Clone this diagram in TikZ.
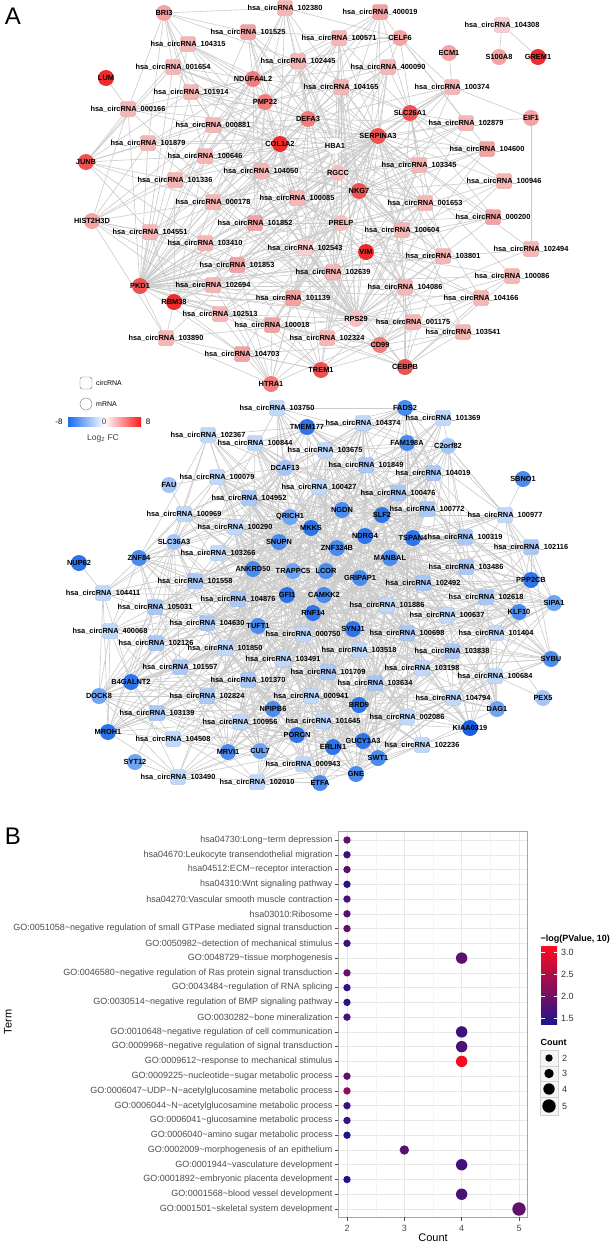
\documentclass[tikz,border=0pt]{standalone}
\usepackage{fontspec}
\setmainfont{Liberation Sans}
\pgfdeclarelayer{bg}
\pgfdeclarelayer{fg}
\pgfsetlayers{bg,main,fg}
\definecolor{r1}{HTML}{EE2B2B}
\definecolor{r2}{HTML}{EF5252}
\definecolor{r3}{HTML}{F17C7C}
\definecolor{r4}{HTML}{F4A3A3}
\definecolor{r5}{HTML}{F7BEBE}
\definecolor{w}{HTML}{FFFFFF}
\definecolor{s1}{HTML}{F9CECE}
\definecolor{s2}{HTML}{F6B6B6}
\definecolor{s3}{HTML}{F3A2A2}
\definecolor{b0}{HTML}{1A5FE0}
\definecolor{b1}{HTML}{2D74EA}
\definecolor{b2}{HTML}{4A8BEE}
\definecolor{b3}{HTML}{6FA4F2}
\definecolor{b4}{HTML}{A4C5F6}
\definecolor{q1}{HTML}{C0D8FA}
\definecolor{q2}{HTML}{A9C8F6}
\definecolor{edgegray}{HTML}{CBCBCB}
\definecolor{lowc}{HTML}{1E148C}
\definecolor{highc}{HTML}{FF0A1E}
\definecolor{fcblue}{HTML}{1A6BF0}
\definecolor{fcred}{HTML}{FF1A1A}
\definecolor{axgray}{HTML}{4D4D4D}
\newcommand\netfont{\bfseries\fontsize{7.4}{8}\selectfont}
\newcommand\mytilde{\textasciitilde}
\tikzset{
  csq/.style={rectangle, rounded corners=2.5pt, minimum size=15pt, inner sep=0pt, line width=0.4pt},
  mcirc/.style={circle, minimum size=16pt, inner sep=0pt},
  lbl/.style={font=\netfont, inner sep=0pt, text=black},
  edge/.style={draw=edgegray, line width=0.6pt},
  termlbl/.style={anchor=east, inner sep=0pt, font=\fontsize{9}{10}\selectfont, text=axgray},
  axlbl/.style={inner sep=0pt, font=\fontsize{9}{10}\selectfont, text=axgray},
  gridmaj/.style={draw=black!9, line width=0.5pt},
  gridmin/.style={draw=black!4, line width=0.3pt},
  tickc/.style={draw=axgray, line width=0.5pt},
}
% ---------- top network ----------
\def\TMlist{BRI3/164/13/r4, CELF6/400/38/r4, NDUFA4L2/253/79/r3, PMP22/265/102/r3,
 DEFA3/308/119/r3, SLC26A1/410/113/r2, SERPINA3/378/136/r2, COL1A2/280/144/r1,
 HBA1/335/146/w, RGCC/338/173/r5, NKG7/359/191/r2, PRELP/341/223/r5, VIM/366/252/r1,
 RPS29/356/319/r5, CD99/380/345/r3, TREM1/321/370/r2, CEBPB/405/367/r2, HTRA1/271/384/r3,
 JUNB/86/162/r2, HIST2H3D/92/221/r4, PKD1/140/286/r2, RBM38/174/302/r1}
\def\TPlist{LUM/106/78/r1, ECM1/449/53/r4, S100A8/499/57/r4, GREM1/538/57/r1, EIF1/531/118/r4}
\def\TClist{102380/285/8/s2, 400019/380/12/s3, 104315/188/44/s2, 101525/248/32/s3,
 100571/339/38/s2, 001654/173/67/s2, 102445/298/61/s2, 400090/388/67/s2, 101914/191/92/s2,
 104165/341/87/s2, 100374/452/87/s2, 000166/128/109/s2, 000881/213/125/s2, 102879/466/123/s2,
 101879/148/143/s2, 104600/487/149/s3, 100646/205/156/s2, 104050/261/171/s2, 103345/419/165/s2,
 101336/175/180/s2, 100946/504/181/s2, 100085/297/198/s2, 001653/425/203/s2, 000178/213/202/s2,
 101852/255/223/s3, 100604/402/230/s2, 000200/493/217/s3, 104551/150/232/s2, 102543/305/248/s1,
 102494/531/249/s2, 103410/205/243/s2, 103801/443/256/s2, 101853/237/265/s3, 102639/333/272/s2,
 100086/512/276/s2, 102694/213/285/s2, 104086/405/287/s2, 104166/481/298/s2, 101139/293/298/s3,
 102513/220/314/s2, 001175/413/322/s2, 103541/463/332/s2, 100018/272/325/s3, 102324/327/338/s2,
 103890/166/338/s2, 104703/242/354/s3}
\def\TCPlist{104308/502/25/s1}
% ---------- bottom network ----------
\def\BMlist{FADS2/405/408/b2, TMEM177/307/427/b1, FAM198A/407/443/b2, C2orf82/448/446/b4,
 DCAF13/285/468/b4, NGDN/342/510/b2, SLF2/382/515/b1, QRICH1/290/517/b3, MKKS/311/528/b1,
 NDRG4/365/536/b1, SNUPN/279/542/b2, ZNF324B/337/548/b2, TSPAN4/413/538/b1, MANBAL/390/558/b2,
 SLC36A3/174/542/b4, ZNF84/139/558/b2, ANKRD50/253/569/b2, TRAPPC5/293/571/b3, LCOR/326/571/b2,
 GRIPAP1/360/578/b2, GFI1/287/595/b1, CAMKK2/324/595/b2, PPP2CB/531/580/b1, RNF14/313/613/b1,
 TUFT1/258/626/b2, SYNJ1/353/629/b1, KLF10/519/612/b2, SIPA1/554/603/b3, B4GALNT2/131/682/b1,
 SYBU/551/659/b2, DOCK8/99/696/b3, NPIPB6/273/709/b2, BRD9/359/705/b1, DAG1/497/709/b3,
 MROH1/108/732/b1, PORCN/297/735/b1, KIAA0319/470/728/b0, GUCY1A3/363/741/b1, ERLIN1/333/747/b1,
 MRVI1/228/752/b2, CUL7/260/751/b3, SWT1/378/758/b2, GNE/356/774/b2, ETFA/320/783/b2}
\def\BPlist{NUP62/79/563/b1, SBNO1/523/479/b2, FAU/169/485/b4, SYT12/135/762/b3, PEX5/543/698/b4}
\def\BClist{103750/277/408/q1, 101369/443/418/q1, 104374/363/423/q1, 102367/208/435/q1,
 100844/255/443/q1, 103675/325/450/q1, 101849/366/465/q2, 104019/433/473/q2, 100079/217/477/q1,
 100427/319/487/q1, 100476/398/493/q2, 104952/249/498/q2, 100772/427/509/q2, 100969/184/514/q1,
 100977/505/515/q1, 100290/235/527/q1, 100319/465/537/q2, 103266/218/553/q1, 102116/531/547/q2,
 103486/466/567/q2, 101558/195/581/q2, 102492/423/583/q2, 104411/103/593/q1, 105031/155/607/q2,
 104876/238/599/q2, 101886/387/605/q1, 102618/486/597/q2, 100637/447/615/q1, 400068/110/631/q1,
 104630/207/623/q2, 000750/303/634/q1, 100698/407/633/q2, 101404/496/633/q1, 102126/156/643/q2,
 101850/225/648/q1, 103518/359/650/q1, 103838/452/651/q2, 101557/180/667/q2, 103491/283/659/q1,
 101709/328/672/q2, 103198/422/668/q1, 101370/248/680/q2, 103634/375/683/q2, 100684/495/676/q1,
 102824/207/696/q2, 000941/311/696/q1, 104794/453/698/q1, 103139/157/713/q2, 100956/240/722/q1,
 101645/323/721/q1, 002086/407/717/q1, 104508/173/739/q1, 102236/422/745/q1, 000943/303/764/q1,
 103490/178/777/q1, 102010/257/782/q1}
\begin{document}
\begin{tikzpicture}[x=1pt,y=-1pt]
\begin{pgfonlayer}{bg}
\fill[white] (0,0) rectangle (612,1242);
\end{pgfonlayer}
\useasboundingbox (0,0) rectangle (612,1242);
% panel letters
\node[font=\fontsize{24}{26}\selectfont, inner sep=0pt] (letA) at (13,16) {A};
\node[font=\fontsize{24}{26}\selectfont, inner sep=0pt] (letB) at (13,836) {B};
% ---- nodes ----
\foreach \nm/\px/\py/\cl in \TMlist {\node[mcirc, fill=\cl] (\nm) at (\px,\py) {};}
\foreach \nm/\px/\py/\cl in \TPlist {\node[mcirc, fill=\cl] (\nm) at (\px,\py) {};}
\foreach \nm/\px/\py/\cl in \TClist {\node[csq, fill=\cl, draw=\cl!85!black] (c\nm) at (\px,\py) {};}
\foreach \nm/\px/\py/\cl in \TCPlist {\node[csq, fill=\cl, draw=\cl!85!black] (c\nm) at (\px,\py) {};}
\foreach \nm/\px/\py/\cl in \BMlist {\node[mcirc, fill=\cl] (\nm) at (\px,\py) {};}
\foreach \nm/\px/\py/\cl in \BPlist {\node[mcirc, fill=\cl] (\nm) at (\px,\py) {};}
\foreach \nm/\px/\py/\cl in \BClist {\node[csq, fill=\cl, draw=\cl!85!black] (c\nm) at (\px,\py) {};}
% ---- labels ----
\begin{pgfonlayer}{fg}
\foreach \nm/\px/\py/\cl in \TMlist {\node[lbl] (l\nm) at (\nm) {\nm};}
\foreach \nm/\px/\py/\cl in \TPlist {\node[lbl] (l\nm) at (\nm) {\nm};}
\foreach \nm/\px/\py/\cl in \TClist {\node[lbl] (l\nm) at (c\nm) {hsa\_circRNA\_\nm};}
\foreach \nm/\px/\py/\cl in \TCPlist {\node[lbl] (l\nm) at (c\nm) {hsa\_circRNA\_\nm};}
\foreach \nm/\px/\py/\cl in \BMlist {\node[lbl] (l\nm) at (\nm) {\nm};}
\foreach \nm/\px/\py/\cl in \BPlist {\node[lbl] (l\nm) at (\nm) {\nm};}
\foreach \nm/\px/\py/\cl in \BClist {\node[lbl] (l\nm) at (c\nm) {hsa\_circRNA\_\nm};}
\end{pgfonlayer}
% ---- edges ----
\begin{pgfonlayer}{bg}
\foreach \nm/\px/\py/\cl [count=\ai] in \TClist {
  \foreach \mm/\qx/\qy/\ql [count=\bj] in \TMlist {
    \pgfmathtruncatemacro\ok{(veclen(\px-\qx,\py-\qy)<160)||(mod(\ai*7+\bj*11,7)==0)}
    \ifnum\ok=1 \draw[edge] (c\nm) -- (\mm); \fi
  }
}
\draw[edge] (LUM) -- (c000166);
\draw[edge] (ECM1) -- (c100374);
\draw[edge] (S100A8) -- (c104308);
\draw[edge] (GREM1) -- (c104308);
\draw[edge] (EIF1) -- (c100374);
\draw[edge] (EIF1) -- (c102879);
\draw[edge] (EIF1) -- (c102494);
\foreach \nm/\px/\py/\cl [count=\ai] in \BClist {
  \foreach \mm/\qx/\qy/\ql [count=\bj] in \BMlist {
    \pgfmathtruncatemacro\ok{(veclen(\px-\qx,\py-\qy)<150)||(mod(\ai*5+\bj*11,9)==0)}
    \ifnum\ok=1 \draw[edge] (c\nm) -- (\mm); \fi
  }
}
\draw[edge] (NUP62) -- (c104411);
\draw[edge] (SBNO1) -- (c100977);
\draw[edge] (FAU) -- (c100969);
\draw[edge] (FAU) -- (c100079);
\draw[edge] (SYT12) -- (c103490);
\draw[edge] (SYT12) -- (c103139);
\draw[edge] (PEX5) -- (c100684);
\draw[edge] (PEX5) -- (c101404);
\end{pgfonlayer}
% ---- legend A ----
\node[csq, fill=white, draw=black!55, minimum size=12pt] (legsq) at (86,383) {};
\node[anchor=west, inner sep=0pt, font=\fontsize{7}{8}\selectfont] (legsqt) at (96,383) {circRNA};
\node[circle, fill=white, draw=black!55, minimum size=12pt, inner sep=0pt] (legci) at (86,404) {};
\node[anchor=west, inner sep=0pt, font=\fontsize{7}{8}\selectfont] (legcit) at (96,404) {mRNA};
\shade[left color=fcblue, right color=fcred, middle color=white] (68,417.5) rectangle (141,426.5);
\node[inner sep=0pt, font=\fontsize{8}{9}\selectfont] (cbm8) at (59,422) {-8};
\node[inner sep=0pt, font=\fontsize{8}{9}\selectfont, text=black!70] (cb0) at (104,422) {0};
\node[inner sep=0pt, font=\fontsize{8}{9}\selectfont] (cb8) at (148,422) {8};
\node[inner sep=0pt, font=\fontsize{8.5}{9}\selectfont, text=black!75] (cbt) at (103,438) {Log\textsubscript{2} FC};
% ---------- panel B ----------
\fill[white] (338,831) rectangle (527,1217);
\foreach \gx in {375.7,433,490.3} {\draw[gridmin] (\gx,831) -- (\gx,1217);}
\foreach \gx in {347,404.3,461.7,519} {\draw[gridmaj] (\gx,831) -- (\gx,1217);}
\foreach \lab/\cnt/\v [count=\i] in {
 hsa04730:Long−term depression/2/1.9,
 hsa04670:Leukocyte transendothelial migration/2/1.6,
 hsa04512:ECM−receptor interaction/2/1.85,
 hsa04310:Wnt signaling pathway/2/1.5,
 hsa04270:Vascular smooth muscle contraction/2/1.7,
 hsa03010:Ribosome/2/1.8,
 GO:0051058\mytilde negative regulation of small GTPase mediated signal transduction/2/1.9,
 GO:0050982\mytilde detection of mechanical stimulus/2/1.6,
 GO:0048729\mytilde tissue morphogenesis/4/1.85,
 GO:0046580\mytilde negative regulation of Ras protein signal transduction/2/1.95,
 GO:0043484\mytilde regulation of RNA splicing/2/1.55,
 GO:0030514\mytilde negative regulation of BMP signaling pathway/2/1.5,
 GO:0030282\mytilde bone mineralization/2/1.75,
 GO:0010648\mytilde negative regulation of cell communication/4/1.6,
 GO:0009968\mytilde negative regulation of signal transduction/4/1.75,
 GO:0009612\mytilde response to mechanical stimulus/4/3.1,
 GO:0009225\mytilde nucleotide−sugar metabolic process/2/1.85,
 GO:0006047\mytilde UDP−N−acetylglucosamine metabolic process/2/2.2,
 GO:0006044\mytilde N−acetylglucosamine metabolic process/2/1.6,
 GO:0006041\mytilde glucosamine metabolic process/2/1.6,
 GO:0006040\mytilde amino sugar metabolic process/2/1.38,
 GO:0002009\mytilde morphogenesis of an epithelium/3/1.85,
 GO:0001944\mytilde vasculature development/4/1.65,
 GO:0001892\mytilde embryonic placenta development/2/1.38,
 GO:0001568\mytilde blood vessel development/4/1.7,
 GO:0001501\mytilde skeletal system development/5/1.9} {
  \pgfmathsetmacro\ry{840+(\i-1)*14.76}
  \pgfmathsetmacro\dx{347+(\cnt-2)*57.33}
  \pgfmathsetmacro\dr{3.7+(\cnt-2)*1.0}
  \pgfmathtruncatemacro\pc{(\v-1.36)/1.78*100}
  \draw[gridmaj] (338,\ry) -- (527,\ry);
  \draw[tickc] (334.5,\ry) -- (338,\ry);
  \node[termlbl] (t\i) at (332.5,\ry) {\lab};
  \fill[highc!\pc!lowc] (\dx,\ry) circle (\dr pt);
}
\draw[draw=black!35, line width=0.6pt] (338,831) rectangle (527,1217);
\foreach \gx/\tl in {347/2,404.3/3,461.7/4,519/5} {
  \draw[tickc] (\gx,1217) -- (\gx,1220.5);
  \node[axlbl] (xt\tl) at (\gx,1228) {\tl};
}
\node[inner sep=0pt, font=\fontsize{11}{12}\selectfont] (xtitle) at (433,1238) {Count};
\node[inner sep=0pt, rotate=90, font=\fontsize{11}{12}\selectfont] (ytitle) at (8,1022) {Term};
% colour legend
\node[anchor=west, inner sep=0pt, font=\bfseries\fontsize{9}{10}\selectfont] (pvt) at (540.5,939) {−log(PValue, 10)};
\shade[top color=highc, bottom color=lowc] (541,946) rectangle (557,1024);
\foreach \ly/\lt in {952/3.0,974/2.5,996/2.0,1018/1.5} {
  \draw[white, line width=0.5pt] (541,\ly) -- (544.5,\ly);
  \draw[white, line width=0.5pt] (553.5,\ly) -- (557,\ly);
  \node[anchor=west, inner sep=0pt, font=\fontsize{9}{10}\selectfont, text=black!80] (pl\lt) at (561,\ly) {\lt};
}
% count legend
\node[anchor=west, inner sep=0pt, font=\bfseries\fontsize{9}{10}\selectfont] (cntt) at (540.5,1042) {Count};
\foreach \ya/\yb/\kk/\kr in {1050/1066/2/3.7, 1066/1081/3/4.7, 1081/1097/4/5.7, 1097/1115/5/6.7} {
  \draw[fill=black!4, draw=black!18, line width=0.5pt] (540,\ya) rectangle (558,\yb);
  \fill[black] (549,{(\ya+\yb)/2}) circle (\kr pt);
  \node[anchor=west, inner sep=0pt, font=\fontsize{9}{10}\selectfont, text=black!80] (ck\kk) at (562,{(\ya+\yb)/2}) {\kk};
}
\end{tikzpicture}
\end{document}
